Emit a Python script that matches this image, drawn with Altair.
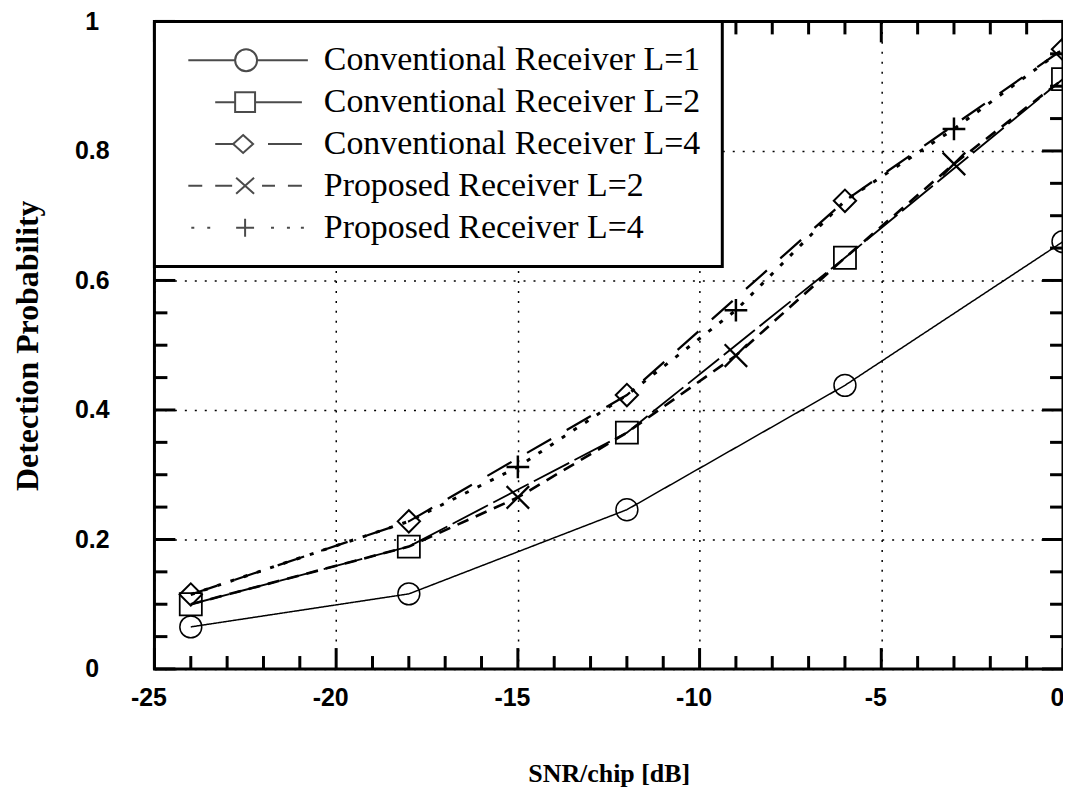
import altair as alt
import pandas as pd

# ---------------- data ----------------
series_names = [
    "Conventional Receiver L=1",
    "Conventional Receiver L=2",
    "Conventional Receiver L=4",
    "Proposed Receiver L=2",
    "Proposed Receiver L=4",
]
snr_conv = [-24, -18, -12, -6, 0]
conv_L1 = [0.065, 0.116, 0.246, 0.438, 0.660]
conv_L2 = [0.100, 0.189, 0.365, 0.635, 0.911]
conv_L4 = [0.115, 0.228, 0.423, 0.723, 0.957]
snr_prop = [-15, -9, -3]
prop_L2 = [0.265, 0.484, 0.780]
prop_L4 = [0.312, 0.554, 0.834]

x_major = [-25, -20, -15, -10, -5, 0]
x_minor = [-24, -23, -22, -21, -19, -18, -17, -16, -14, -13, -12, -11,
           -9, -8, -7, -6, -4, -3, -2, -1]
y_major = [0, 0.2, 0.4, 0.6, 0.8, 1.0]
y_minor = [0.05, 0.1, 0.15, 0.25, 0.3, 0.35, 0.45, 0.5, 0.55, 0.65,
           0.7, 0.75, 0.85, 0.9, 0.95]

# ---------------- styles ----------------
W, H = 912, 650
X0, X1, Y0, Y1 = -25, 0, 0, 1
line_dash = [[1, 0], [40, 6], [28, 18], [12, 8], [4, 10]]
line_width = [1.5, 3, 3, 3, 2.5]
marker_shape = ["circle", "square", "diamond",
                "M-1,-1L1,1M-1,1L1,-1", "M0,-1V1M-1,0H1"]
marker_size = [484, 520, 420, 500, 600]
marker_width = [1.5, 2.5, 2.5, 3, 2.5]

# legend symbols: line + marker as one path (1 unit = 10 px)
legend_paths = [
    "M-0.5,0H4.2M6.4,0H11.5M4.2,0A1.1,1.1 0 1,0 6.4,0A1.1,1.1 0 1,0 4.2,0",
    "M2.2,0H4.2M6.2,0H10.9M4.2,-1V1H6.2V-1Z",
    "M2.2,0H4.0M7.5,0H10.9M5.0,-0.9L6.0,0L5.0,0.9L4.0,0Z",
    "M-0.5,0H0.9M2.2,0H3.9M6.9,0H8.2M9.5,0H10.9M4.3,-0.8L6.1,0.8M4.3,0.8L6.1,-0.8",
    "M-0.2,0H0.1M1.4,0H1.7M7.8,0H8.1M9.4,0H9.7M10.8,0H11.1M5.2,-0.9V0.9M4.3,0H6.1",
]

# ---------------- tables ----------------
rows = []
for name, xs, ys in [
    (series_names[0], snr_conv, conv_L1),
    (series_names[1], snr_conv, conv_L2),
    (series_names[2], snr_conv, conv_L4),
]:
    for a, b in zip(xs, ys):
        rows.append({"series": name, "snr": a, "pd": b})
marker_df = pd.DataFrame(rows + [
    {"series": series_names[3], "snr": a, "pd": b} for a, b in zip(snr_prop, prop_L2)
] + [
    {"series": series_names[4], "snr": a, "pd": b} for a, b in zip(snr_prop, prop_L4)
])

line_rows = list(rows)
for name, base, extra in [
    (series_names[3], conv_L2, prop_L2),
    (series_names[4], conv_L4, prop_L4),
]:
    pts = sorted(list(zip(snr_conv, base)) + list(zip(snr_prop, extra)))
    for a, b in pts:
        line_rows.append({"series": name, "snr": a, "pd": b})
line_df = pd.DataFrame(line_rows)

# inward axis ticks on all four sides (tick length given in pixels)
tick_rows = []
def add_ticks(vals, axis, side, length_px, kind):
    if axis == "x":
        d = length_px / H * (Y1 - Y0)
        a, b = (Y0, Y0 + d) if side == "bottom" else (Y1, Y1 - d)
        for v in vals:
            tick_rows.append({"kind": kind, "x1": v, "x2": v, "y1": a, "y2": b})
    else:
        d = length_px / W * (X1 - X0)
        a, b = (X0, X0 + d) if side == "left" else (X1, X1 - d)
        for v in vals:
            tick_rows.append({"kind": kind, "x1": a, "x2": b, "y1": v, "y2": v})

for side in ["bottom", "top"]:
    add_ticks(x_major, "x", side, 21, "major")
    add_ticks(x_minor, "x", side, 13, "minor")
for side in ["left", "right"]:
    add_ticks(y_major, "y", side, 21, "major")
    add_ticks(y_minor, "y", side, 13, "minor")
tick_table = pd.DataFrame(tick_rows)

xscale = alt.Scale(domain=[X0, X1], nice=False, zero=False)
yscale = alt.Scale(domain=[Y0, Y1], nice=False)

x_axis = alt.Axis(
    values=x_major, title="SNR/chip [dB]", ticks=False, tickSize=0, domain=False,
    labelExpr="'' + datum.value", labelFont="Liberation Sans", labelFontWeight="bold",
    labelFontSize=25, labelColor="black", labelPadding=17, labelFlush=False,
    labelOffset=-6,
    titleFont="Liberation Serif", titleFontWeight="bold", titleFontSize=26,
    titleColor="black", titleX=456, titleY=105, titleBaseline="middle",
    grid=True, gridDash=[2, 8], gridColor="black", gridWidth=1.5, gridOpacity=1,
)
y_axis = alt.Axis(
    values=y_major, title="Detection Probability", ticks=False, tickSize=0, domain=False,
    format=".1~f", labelFont="Liberation Sans", labelFontWeight="bold",
    labelFontSize=25, labelColor="black", labelPadding=63, labelAlign="center",
    titleFont="Liberation Serif", titleFontWeight="bold", titleFontSize=32,
    titleColor="black", titleX=-127, titleY=325, titleBaseline="middle",
    titleAlign="center", titleAngle=-90,
    grid=True, gridDash=[2, 8], gridColor="black", gridWidth=1.5, gridOpacity=1,
)

lines = alt.Chart(line_df).mark_line(color="black").encode(
    x=alt.X("snr:Q", scale=xscale, axis=x_axis),
    y=alt.Y("pd:Q", scale=yscale, axis=y_axis),
    strokeDash=alt.StrokeDash("series:N", scale=alt.Scale(domain=series_names, range=line_dash), legend=None),
    strokeWidth=alt.StrokeWidth("series:N", scale=alt.Scale(domain=series_names, range=line_width), legend=None),
)

tick_marks = alt.Chart(tick_table).mark_rule(color="black", strokeWidth=3).encode(
    x="x1:Q", x2="x2:Q", y="y1:Q", y2="y2:Q"
)

points = alt.Chart(marker_df).mark_point(color="black", filled=False, opacity=1).encode(
    x="snr:Q",
    y="pd:Q",
    shape=alt.Shape("series:N", scale=alt.Scale(domain=series_names, range=marker_shape), legend=None),
    size=alt.Size("series:N", scale=alt.Scale(domain=series_names, range=marker_size), legend=None),
    strokeWidth=alt.StrokeWidth("series:N", scale=alt.Scale(domain=series_names, range=marker_width), legend=None),
)

legend_proxy = alt.Chart(pd.DataFrame({"series": series_names})).transform_filter(
    "datum.series == 'none'"
).mark_point(color="black", filled=False).encode(
    shape=alt.Shape(
        "series:N",
        scale=alt.Scale(domain=series_names, range=legend_paths),
        legend=alt.Legend(
            title=None, orient="none", legendX=0, legendY=0,
            labelFont="Liberation Serif", labelFontSize=34, labelColor="black",
            labelLimit=0, labelOffset=114, symbolSize=400, symbolStrokeWidth=2,
            symbolStrokeColor="black", symbolFillColor="transparent",
            padding=22, rowPadding=8, strokeColor="black", fillColor="white",
        ),
    )
)

chart = alt.layer(lines, tick_marks, points, legend_proxy).resolve_scale(
    shape="independent", strokeWidth="independent"
).properties(
    width=W, height=H,
    autosize=alt.AutoSizeParams(type="none"),
    padding={"left": 147, "top": 12, "right": 0, "bottom": 126},
    background="white",
).configure_view(
    stroke="black", strokeWidth=3
).configure_legend(
    strokeWidth=3
)

chart.save("out.html", embed_options={"renderer": "svg", "actions": False})
